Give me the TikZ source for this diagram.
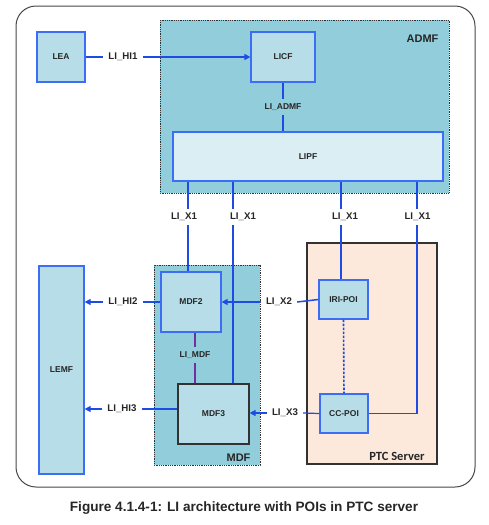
\documentclass[tikz,border=0pt]{standalone}
\usepackage{fontspec}
\setmainfont{Liberation Sans}
\newfontfamily\calfont{Carlito}
\usetikzlibrary{arrows.meta}
\definecolor{admfbg}{RGB}{146,205,220}
\definecolor{nodebg}{RGB}{183,222,232}
\definecolor{lipfbg}{RGB}{218,238,243}
\definecolor{ptcbg}{RGB}{252,233,219}
\definecolor{lineblue}{RGB}{30,75,225}
\definecolor{boxblue}{RGB}{60,110,245}
\definecolor{mdfpurple}{RGB}{112,48,160}
\definecolor{framegray}{RGB}{50,50,50}
\begin{document}
\begin{tikzpicture}[x=1pt,y=-1pt,
  box/.style={draw=boxblue, line width=1.2pt, fill=nodebg, inner sep=0pt,
    font=\fontsize{8.5}{10}\selectfont\bfseries, text=black!85},
  lbl/.style={inner xsep=5pt, inner ysep=4pt, font=\fontsize{9.7}{11}\selectfont\bfseries, text=black!85},
  slbl/.style={lbl, font=\fontsize{8.5}{10}\selectfont\bfseries},
  conn/.style={draw=lineblue, line width=1.5pt},
  arr/.style={conn, -{Triangle[length=6pt,width=6pt]}},
  group/.style={draw=framegray, line width=0.8pt, densely dotted},
  grouptitle/.style={font=\fontsize{11}{13}\selectfont\bfseries, text=black!85}]
\useasboundingbox (0,0) rectangle (488,525);
% outer frame
\draw[framegray!90, line width=1pt, rounded corners=20pt] (16,6) rectangle (475,487);
% groups
\fill[admfbg] (160,20) rectangle (449,193);
\draw[group] (160,20) rectangle (449,193);
\fill[admfbg] (154,265) rectangle (260,465);
\draw[group] (154,265) rectangle (260,465);
\draw[fill=ptcbg, draw=framegray, line width=1.3pt] (307,243) rectangle (437,464);
\node[grouptitle, anchor=east] (admft) at (442,39) {ADMF};
\node[grouptitle, anchor=east] (mdft) at (254,458) {MDF};
\node[font=\calfont\fontsize{12.5}{14}\selectfont\bfseries, text=black!85] (ptct) at (397,456) {PTC Server};
% nodes
\node[box, minimum width=48pt, minimum height=50pt] (lea) at (61,57) {LEA};
\node[box, minimum width=64pt, minimum height=50pt] (licf) at (283,57) {LICF};
\node[box, fill=lipfbg, minimum width=270pt, minimum height=49pt] (lipf) at (308,156.5) {LIPF};
\node[box, minimum width=45pt, minimum height=208pt] (lemf) at (61.5,370) {LEMF};
\node[box, minimum width=60pt, minimum height=60pt] (mdf2) at (191,302) {MDF2};
\node[box, draw=framegray, minimum width=71pt, minimum height=60pt] (mdf3) at (213.5,414) {MDF3};
\node[box, minimum width=49pt, minimum height=39pt] (iri) at (343.5,299.5) {IRI-POI};
\node[box, minimum width=48pt, minimum height=39pt] (cc) at (344,413.5) {CC-POI};
% labels
\node[lbl] (hi1) at (123,57) {LI\_HI1};
\node[slbl] (admfl) at (283,107) {LI\_ADMF};
\node[lbl] (x1a) at (184,217) {LI\_X1};
\node[lbl] (x1b) at (243,217) {LI\_X1};
\node[lbl] (x1c) at (345,217) {LI\_X1};
\node[lbl] (x1d) at (417.5,217) {LI\_X1};
\node[lbl] (hi2) at (123,302) {LI\_HI2};
\node[lbl] (x2) at (279,302) {LI\_X2};
\node[slbl] (mdfl) at (195,355) {LI\_MDF};
\node[lbl] (hi3) at (122,409) {LI\_HI3};
\node[lbl] (x3) at (285,413) {LI\_X3};
% x positions of vertical lines
\coordinate (xa) at (188,0);
\coordinate (xb) at (233,0);
\coordinate (xc) at (341,0);
\coordinate (xd) at (417,0);
\coordinate (xm) at (195,0);
% connectors
\draw[conn] (lea.east) -- (hi1.west);
\draw[arr] (hi1.east) -- (licf.west);
\draw[conn] (licf.south) -- (admfl.north);
\draw[conn] (admfl.south) -- (admfl.south |- lipf.north);
\draw[conn] (lipf.south -| xa) -- (x1a.north -| xa);
\draw[conn] (x1a.south -| xa) -- (mdf2.north -| xa);
\draw[conn] (lipf.south -| xb) -- (x1b.north -| xb);
\draw[conn] (x1b.south -| xb) -- (mdf3.north -| xb);
\draw[conn] (lipf.south -| xc) -- (x1c.north -| xc);
\draw[conn] (x1c.south -| xc) -- (iri.north -| xc);
\draw[conn] (lipf.south -| xd) -- (x1d.north -| xd);
\draw[conn] (x1d.south -| xd) |- (cc.east);
\draw[draw=mdfpurple, line width=1.5pt] (mdf2.south -| xm) -- (mdfl.north -| xm);
\draw[draw=mdfpurple, line width=1.5pt] (mdfl.south -| xm) -- (mdf3.north -| xm);
\draw[conn, line width=1.6pt, dash pattern=on 2.5pt off 1.5pt] (iri.south) -- (cc.north);
\draw[conn, line width=1.2pt] (mdf2.west) -- (hi2.east);
\draw[arr, line width=1.2pt] (hi2.west) -- (lemf.east |- hi2);
\draw[conn] (iri.west) -- (x2.east);
\draw[arr] (x2.west) -- (mdf2.east |- x2);
\draw[conn, line width=1.2pt] (mdf3.west |- hi3) -- (hi3.east);
\draw[arr, line width=1.2pt] (hi3.west) -- (lemf.east |- hi3);
\draw[conn, line width=1.2pt] (cc.west) -- (x3.east);
\draw[arr, line width=1.2pt] (x3.west) -- (mdf3.east |- x3);
% caption
\node[font=\fontsize{13.6}{16}\selectfont\bfseries, text=black!85] (cap) at (244,508) {Figure 4.1.4-1: LI architecture with POIs in PTC server};
\end{tikzpicture}
\end{document}
